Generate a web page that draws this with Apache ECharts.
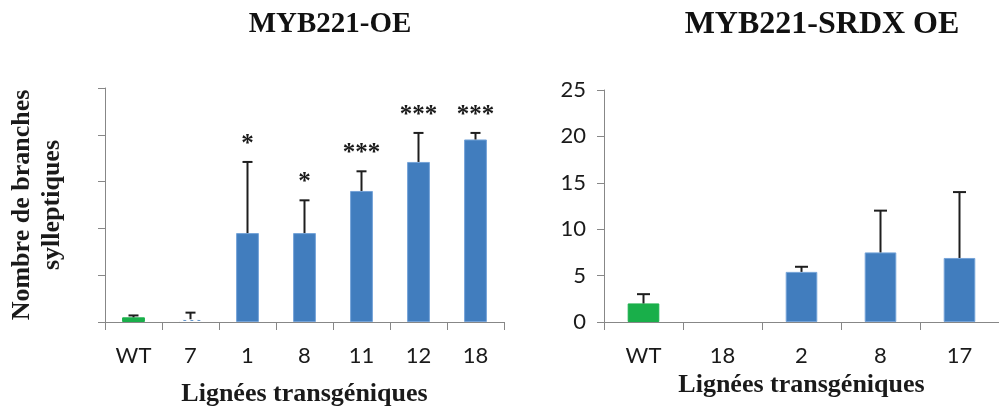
<!DOCTYPE html>
<html>
<head>
<meta charset="utf-8">
<script src="https://cdn.jsdelivr.net/npm/echarts@6/dist/echarts.min.js"></script>
<style>html,body{margin:0;padding:0;background:#fff;}#c{width:999px;height:412px;}</style>
</head>
<body>
<div id="c"></div>
<script>
// ---- Data ----
const leftTitle = 'MYB221-OE';
const rightTitle = 'MYB221-SRDX OE';
const yName = 'Nombre de branches\nsylleptiques';
const xName = 'Lignées transgéniques';

const leftCats = ['WT', '7', '1', '8', '11', '12', '18'];
const leftMeans = [0.5, 0.3, 9.5, 9.5, 14.0, 17.1, 19.5];
const leftErr = [0.2, 0.7, 7.6, 3.5, 2.1, 3.1, 0.7];
const leftSig = ['', '', '*', '*', '***', '***', '***'];

const rightCats = ['WT', '18', '2', '8', '17'];
const rightMeans = [2.0, null, 5.4, 7.5, 6.9];
const rightErr = [1.0, null, 0.55, 4.5, 7.1];

const yTicks = [0, 5, 10, 15, 20, 25];

// ---- Styles ----
const BLUE = '#417DBE';
const BLUE_EDGE = '#74A3D8';
const GREEN = '#19AF4A';
const AXIS = '#878787';
const SERIF = '"Liberation Serif", "DejaVu Serif", serif';
const SANS = 'Lato, "Open Sans", sans-serif';

const chart = echarts.init(document.getElementById('c'), null, {renderer: 'canvas'});

function barData(cats, means) {
  return means.map((v, i) => {
    const d = {value: v};
    if (cats[i] === 'WT') {
      d.itemStyle = {color: GREEN, borderColor: GREEN};
    } else if (cats === leftCats && cats[i] === '7') {
      d.itemStyle = {
        color: '#ffffff', borderColor: '#ffffff',
        decal: {symbol: 'rect', color: BLUE, backgroundColor: '#ffffff',
                dashArrayX: [1, 0], dashArrayY: [2, 3], rotation: Math.PI / 4, symbolSize: 1}
      };
    }
    return d;
  });
}

function errSeries(xIdx, means, errs, sig, capW) {
  return {
    type: 'custom', xAxisIndex: xIdx, yAxisIndex: xIdx, z: 5,
    data: means.map((m, i) => [i, m == null ? 0 : m, errs[i] == null ? 0 : errs[i]]),
    encode: {x: 0, y: 1},
    renderItem: function (params, api) {
      const i = params.dataIndex;
      if (means[i] == null || errs[i] == null) return {type: 'group', children: []};
      const m = api.value(1), e = api.value(2);
      const p0 = api.coord([api.value(0), m]);
      const p1 = api.coord([api.value(0), m + e]);
      const st = {stroke: '#1e1e1e', lineWidth: 2};
      const ch = [
        {type: 'line', shape: {x1: p0[0], y1: p0[1], x2: p1[0], y2: p1[1]}, style: st},
        {type: 'line', shape: {x1: p1[0] - capW / 2, y1: p1[1], x2: p1[0] + capW / 2, y2: p1[1]}, style: st}
      ];
      if (sig && sig[i]) {
        ch.push({type: 'text', x: p1[0], y: p1[1] - 5,
          style: {text: sig[i], fill: '#1a1a1a', font: 'bold 25px ' + SERIF,
                  textAlign: 'center', textVerticalAlign: 'bottom'}});
      }
      return {type: 'group', children: ch};
    }
  };
}

const yAxisBase = {
  type: 'value', min: 0, max: 25, interval: 5,
  axisLine: {show: true, lineStyle: {color: AXIS, width: 1}},
  axisTick: {show: true, length: 7, lineStyle: {color: AXIS}},
  splitLine: {show: false}
};
const xAxisBase = {
  type: 'category',
  axisLine: {show: true, lineStyle: {color: AXIS, width: 1}},
  axisTick: {show: true, length: 8, alignWithLabel: false, lineStyle: {color: AXIS}},
  axisLabel: {color: '#1a1a1a', fontFamily: SANS, fontSize: 22, margin: 23},
  name: xName, nameLocation: 'middle',
  nameTextStyle: {fontFamily: SERIF, fontWeight: 'bold', fontSize: 26, color: '#1a1a1a'}
};

chart.setOption({
  animation: false,
  backgroundColor: '#ffffff',
  title: [
    {text: leftTitle, left: 325, top: 5, textAlign: 'center',
     textStyle: {fontFamily: SERIF, fontWeight: 'bold', fontSize: 29, color: '#111'}},
    {text: rightTitle, left: 817, top: 4, textAlign: 'center',
     textStyle: {fontFamily: SERIF, fontWeight: 'bold', fontSize: 32, color: '#111'}}
  ],
  grid: [
    {left: 105, top: 88, width: 399, height: 234},
    {left: 604, top: 90, width: 401, height: 232}
  ],
  xAxis: [
    Object.assign({}, xAxisBase, {gridIndex: 0, data: leftCats, nameGap: 59}),
    Object.assign({}, xAxisBase, {gridIndex: 1, data: rightCats, nameGap: 49})
  ],
  yAxis: [
    Object.assign({}, yAxisBase, {gridIndex: 0, axisLabel: {show: false},
      name: yName, nameLocation: 'middle', nameGap: 38, nameRotate: 90,
      nameTextStyle: {fontFamily: SERIF, fontWeight: 'bold', fontSize: 26, color: '#1a1a1a', lineHeight: 30}}),
    Object.assign({}, yAxisBase, {gridIndex: 1,
      axisLabel: {color: '#1a1a1a', fontFamily: SANS, fontSize: 22, margin: 18,
                  formatter: v => (yTicks.indexOf(v) >= 0 ? String(v) : '')}})
  ],
  series: [
    {type: 'bar', xAxisIndex: 0, yAxisIndex: 0, barWidth: '40%',
     itemStyle: {color: BLUE, borderColor: BLUE_EDGE, borderWidth: 1},
     data: barData(leftCats, leftMeans)},
    errSeries(0, leftMeans, leftErr, leftSig, 10),
    {type: 'bar', xAxisIndex: 1, yAxisIndex: 1, barWidth: '40%',
     itemStyle: {color: BLUE, borderColor: BLUE_EDGE, borderWidth: 1},
     data: barData(rightCats, rightMeans)},
    errSeries(1, rightMeans, rightErr, null, 13)
  ]
});
</script>
</body>
</html>
